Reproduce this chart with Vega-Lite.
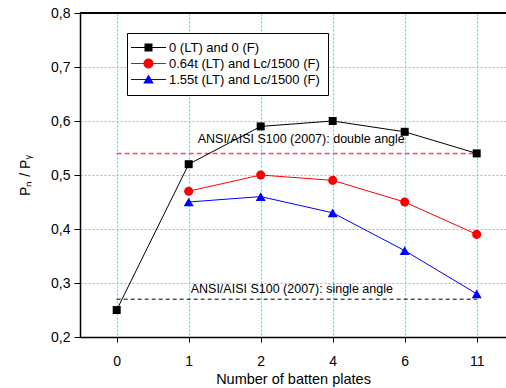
{
  "$schema": "https://vega.github.io/schema/vega-lite/v6.json",
  "width": 426,
  "height": 324,
  "autosize": {"type": "none"},
  "padding": {"left": 80, "top": 13, "right": 0, "bottom": 51},
  "background": "white",
  "config": {
    "view": {"stroke": null},
    "font": "Liberation Sans",
    "axis": {"labelFont": "Liberation Sans", "titleFont": "Liberation Sans", "titleFontWeight": "normal", "labelColor": "#000", "titleColor": "#000"},
    "legend": {
      "title": null, "orient": "none", "legendX": 47, "legendY": 20,
      "padding": 8, "symbolOffset": 7, "labelOffset": 14, "rowPadding": 2,
      "strokeColor": "#000", "fillColor": "white", "labelFontSize": 13, "labelFont": "Liberation Sans",
      "labelLimit": 300, "symbolSize": 100, "labelColor": "#000", "symbolOpacity": 1, "symbolStrokeWidth": 0
    }
  },
  "resolve": {"scale": {"color": "independent", "shape": "independent", "size": "independent"}},
  "datasets": {
    "series": [
      {"plates": "0", "ratio": 0.25, "series": "0 (LT) and 0 (F)"},
      {"plates": "1", "ratio": 0.52, "series": "0 (LT) and 0 (F)"},
      {"plates": "2", "ratio": 0.59, "series": "0 (LT) and 0 (F)"},
      {"plates": "4", "ratio": 0.60, "series": "0 (LT) and 0 (F)"},
      {"plates": "6", "ratio": 0.58, "series": "0 (LT) and 0 (F)"},
      {"plates": "11", "ratio": 0.54, "series": "0 (LT) and 0 (F)"},
      {"plates": "1", "ratio": 0.47, "series": "0.64t (LT) and Lc/1500 (F)"},
      {"plates": "2", "ratio": 0.50, "series": "0.64t (LT) and Lc/1500 (F)"},
      {"plates": "4", "ratio": 0.49, "series": "0.64t (LT) and Lc/1500 (F)"},
      {"plates": "6", "ratio": 0.45, "series": "0.64t (LT) and Lc/1500 (F)"},
      {"plates": "11", "ratio": 0.39, "series": "0.64t (LT) and Lc/1500 (F)"},
      {"plates": "1", "ratio": 0.45, "series": "1.55t (LT) and Lc/1500 (F)"},
      {"plates": "2", "ratio": 0.46, "series": "1.55t (LT) and Lc/1500 (F)"},
      {"plates": "4", "ratio": 0.43, "series": "1.55t (LT) and Lc/1500 (F)"},
      {"plates": "6", "ratio": 0.36, "series": "1.55t (LT) and Lc/1500 (F)"},
      {"plates": "11", "ratio": 0.28, "series": "1.55t (LT) and Lc/1500 (F)"}
    ],
    "refs": [
      {"kind": "double", "plates": "0", "plates_end": "11", "ratio": 0.54},
      {"kind": "single", "plates": "0", "plates_end": "11", "ratio": 0.27}
    ],
    "notes": [
      {"kind": "double", "plates": "1", "ratio": 0.566, "text": "ANSI/AISI S100 (2007): double angle"},
      {"kind": "single", "plates": "1", "ratio": 0.289, "text": "ANSI/AISI S100 (2007): single angle"}
    ]
  },
  "layer": [
    {
      "data": {"name": "refs"},
      "transform": [{"filter": "datum.kind == 'double'"}],
      "mark": {"type": "rule", "color": "#ff4a4a", "strokeWidth": 1.5, "strokeDash": [5, 3]},
      "encoding": {
        "x": {
          "field": "plates", "type": "ordinal", "title": "Number of batten plates",
          "scale": {"type": "point", "domain": ["0", "1", "2", "4", "6", "11"], "padding": 0.4583, "align": 0.556},
          "axis": {
            "labelAngle": 0, "labelFontSize": 14, "labelPadding": 12, "tickSize": 5, "tickColor": "#000",
            "domainColor": "#000", "domainWidth": 1.5, "titleFontSize": 14.5, "titlePadding": 4,
            "grid": true, "gridColor": "#00ffff", "gridDash": [2, 2], "gridWidth": 1.2, "gridOpacity": 1
          }
        },
        "x2": {"field": "plates_end"},
        "y": {
          "field": "ratio", "type": "quantitative", "title": "Pₙ / Pᵧ",
          "scale": {"domain": [0.2, 0.8], "nice": false, "zero": false},
          "axis": {
            "values": [0.2, 0.25, 0.3, 0.35, 0.4, 0.45, 0.5, 0.55, 0.6, 0.65, 0.7, 0.75, 0.8],
            "labelExpr": "round(datum.value*20) % 2 == 0 ? replace(format(datum.value, '.1f'), '.', ',') : ''",
            "tickSize": {"condition": {"test": "round(datum.value*20) % 2 == 0", "value": 6}, "value": 3},
            "labelFontSize": 14, "labelPadding": 4, "tickColor": "#000",
            "domainColor": "#000", "domainWidth": 1.5, "titleFontSize": 14, "titlePadding": 18,
            "grid": true, "gridColor": "#00ffff", "gridDash": [2, 2], "gridWidth": 1.2, "gridOpacity": 1
          }
        }
      }
    },
    {
      "data": {"name": "refs"},
      "transform": [{"filter": "datum.kind == 'single'"}],
      "mark": {"type": "rule", "color": "#000000", "strokeWidth": 1, "strokeDash": [4, 3]},
      "encoding": {
        "x": {"field": "plates", "type": "ordinal", "title": "Number of batten plates"},
        "x2": {"field": "plates_end"},
        "y": {"field": "ratio", "type": "quantitative", "title": "Pₙ / Pᵧ"}
      }
    },
    {
      "data": {"name": "notes"},
      "transform": [{"filter": "datum.kind == 'double'"}],
      "mark": {"type": "text", "align": "left", "baseline": "middle", "dx": 9, "fontSize": 12.5, "font": "Liberation Sans", "color": "#000"},
      "encoding": {
        "x": {"field": "plates", "type": "ordinal", "title": "Number of batten plates"},
        "y": {"field": "ratio", "type": "quantitative", "title": "Pₙ / Pᵧ"},
        "text": {"field": "text"}
      }
    },
    {
      "data": {"name": "notes"},
      "transform": [{"filter": "datum.kind == 'single'"}],
      "mark": {"type": "text", "align": "left", "baseline": "middle", "dx": 2, "fontSize": 12.5, "font": "Liberation Sans", "color": "#000"},
      "encoding": {
        "x": {"field": "plates", "type": "ordinal", "title": "Number of batten plates"},
        "y": {"field": "ratio", "type": "quantitative", "title": "Pₙ / Pᵧ"},
        "text": {"field": "text"}
      }
    },
    {
      "data": {"name": "series"},
      "mark": {"type": "rule", "color": "#000", "strokeWidth": 2},
      "encoding": {"y": {"datum": 0.8}}
    },
    {
      "data": {"name": "series"},
      "mark": {"type": "line", "strokeWidth": 1},
      "encoding": {
        "x": {"field": "plates", "type": "ordinal", "title": "Number of batten plates"},
        "y": {"field": "ratio", "type": "quantitative", "title": "Pₙ / Pᵧ"},
        "color": {
          "field": "series", "type": "nominal",
          "scale": {"domain": ["0 (LT) and 0 (F)", "0.64t (LT) and Lc/1500 (F)", "1.55t (LT) and Lc/1500 (F)"], "range": ["#000000", "#ff0000", "#0000ff"]},
          "legend": null
        }
      }
    },
    {
      "data": {"name": "series"},
      "mark": {"type": "point", "filled": true, "opacity": 1},
      "encoding": {
        "x": {"field": "plates", "type": "ordinal", "title": "Number of batten plates"},
        "y": {"field": "ratio", "type": "quantitative", "title": "Pₙ / Pᵧ"},
        "color": {
          "field": "series", "type": "nominal",
          "scale": {"domain": ["0 (LT) and 0 (F)", "0.64t (LT) and Lc/1500 (F)", "1.55t (LT) and Lc/1500 (F)"], "range": ["#000000", "#ff0000", "#0000ff"]},
          "legend": null
        },
        "shape": {
          "field": "series", "type": "nominal",
          "scale": {"domain": ["0 (LT) and 0 (F)", "0.64t (LT) and Lc/1500 (F)", "1.55t (LT) and Lc/1500 (F)"], "range": ["square", "circle", "triangle-up"]},
          "legend": null
        },
        "size": {
          "field": "series", "type": "nominal",
          "scale": {"domain": ["0 (LT) and 0 (F)", "0.64t (LT) and Lc/1500 (F)", "1.55t (LT) and Lc/1500 (F)"], "range": [64, 100, 110]},
          "legend": null
        }
      }
    },
    {
      "data": {"name": "series"},
      "mark": {"type": "point", "filled": true, "opacity": 0},
      "encoding": {
        "x": {"field": "plates", "type": "ordinal", "title": "Number of batten plates"},
        "y": {"field": "ratio", "type": "quantitative", "title": "Pₙ / Pᵧ"},
        "color": {
          "field": "series", "type": "nominal",
          "scale": {"domain": ["0 (LT) and 0 (F)", "0.64t (LT) and Lc/1500 (F)", "1.55t (LT) and Lc/1500 (F)"], "range": ["#000000", "#ff0000", "#0000ff"]}
        },
        "shape": {
          "field": "series", "type": "nominal",
          "scale": {"domain": ["0 (LT) and 0 (F)", "0.64t (LT) and Lc/1500 (F)", "1.55t (LT) and Lc/1500 (F)"], "range": [
            "M-3.5,-0.1L3.5,-0.1L3.5,0.1L-3.5,0.1Z M-0.8,-0.8L0.8,-0.8L0.8,0.8L-0.8,0.8Z",
            "M-3.5,-0.1L3.5,-0.1L3.5,0.1L-3.5,0.1Z M1,0A1,1 0 1,1 -1,0A1,1 0 1,1 1,0Z",
            "M-3.5,-0.1L3.5,-0.1L3.5,0.1L-3.5,0.1Z M0,-1L1.05,0.8L-1.05,0.8Z"
          ]}
        }
      }
    }
  ]
}
